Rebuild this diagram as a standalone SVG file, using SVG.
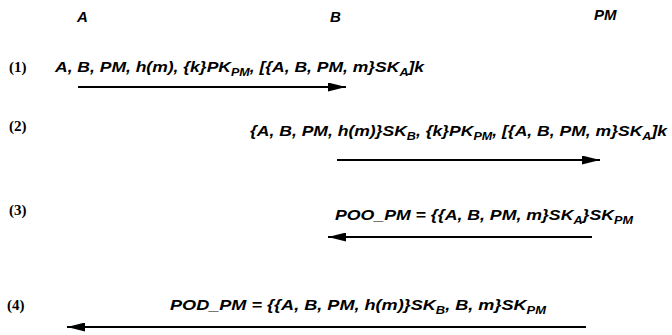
<svg xmlns="http://www.w3.org/2000/svg" width="672" height="335" viewBox="0 0 672 335">
<defs>
<marker id="ah" viewBox="0 0 18 9" refX="18" refY="4.5" markerWidth="18" markerHeight="9" markerUnits="userSpaceOnUse" orient="auto">
<path d="M0,0 L18,4.5 L0,9 Z" fill="#000"/>
</marker>
<style>
.hd{font-family:"Liberation Sans",Arial,sans-serif;font-weight:bold;font-style:italic;font-size:15px;fill:#000}
.msg{font-family:"Liberation Sans",Arial,sans-serif;font-weight:bold;font-style:italic;font-size:14px;fill:#000}
.sub{font-size:10px}
.num{font-family:"Liberation Serif","Times New Roman",serif;font-weight:bold;font-size:15px;fill:#000}
.arr{stroke:#000;stroke-width:2;fill:none;marker-end:url(#ah)}
</style>
</defs>
<rect width="672" height="335" fill="#fff"/>
<g id="party-A"><text class="hd" x="77" y="22">A</text></g>
<g id="party-B"><text class="hd" x="330" y="22">B</text></g>
<g id="party-PM"><text class="hd" x="594" y="20">PM</text></g>
<g id="step1">
<text class="num" x="9" y="72">(1)</text>
<text class="msg" x="55" y="72" textLength="369" lengthAdjust="spacingAndGlyphs">A, B, PM, h(m), {k}PK<tspan class="sub" dy="4">PM</tspan><tspan dy="-4">, [{A, B, PM, m}SK</tspan><tspan class="sub" dy="4">A</tspan><tspan dy="-4">]k</tspan></text>
</g>
<g id="step2">
<text class="num" x="9" y="131">(2)</text>
<text class="msg" x="250" y="136" textLength="417" lengthAdjust="spacingAndGlyphs">{A, B, PM, h(m)}SK<tspan class="sub" dy="4">B</tspan><tspan dy="-4">, {k}PK</tspan><tspan class="sub" dy="4">PM</tspan><tspan dy="-4">, [{A, B, PM, m}SK</tspan><tspan class="sub" dy="4">A</tspan><tspan dy="-4">]k</tspan></text>
</g>
<g id="step3">
<text class="num" x="9" y="215">(3)</text>
<text class="msg" x="335" y="220" textLength="298" lengthAdjust="spacingAndGlyphs">POO_PM = {{A, B, PM, m}SK<tspan class="sub" dy="4">A</tspan><tspan dy="-4">}SK</tspan><tspan class="sub" dy="4">PM</tspan></text>
</g>
<g id="step4">
<text class="num" x="7" y="310">(4)</text>
<text class="msg" x="170" y="310" textLength="376" lengthAdjust="spacingAndGlyphs">POD_PM = {{A, B, PM, h(m)}SK<tspan class="sub" dy="4">B</tspan><tspan dy="-4">, B, m}SK</tspan><tspan class="sub" dy="4">PM</tspan></text>
</g>
<g id="connectors">
<line class="arr" x1="78" y1="87" x2="346" y2="87"/>
<line class="arr" x1="337" y1="160" x2="600" y2="160"/>
<line class="arr" x1="592" y1="237" x2="328" y2="237"/>
<line class="arr" x1="586" y1="327" x2="67" y2="327"/>
</g>
</svg>
